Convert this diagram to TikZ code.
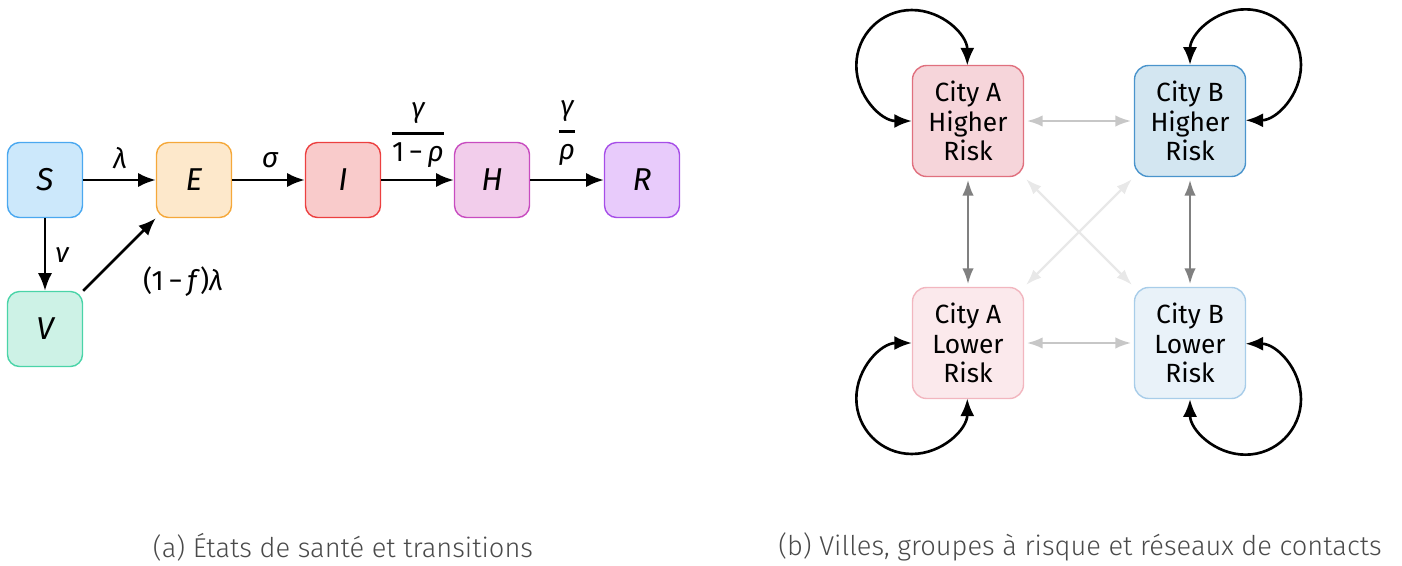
\documentclass[tikz,border=0pt]{standalone}
\usepackage{fontspec}
\setmainfont{Fira Sans}
\IfFontExistsTF{Fira Sans Light}{\newfontfamily\lightfont{Fira Sans Light}}{\newfontfamily\lightfont{Fira Sans}}
\usepackage{tikz}
\usetikzlibrary{arrows.meta}

\definecolor{sFill}{HTML}{CCE8FB}\definecolor{sLine}{HTML}{4AA8F0}
\definecolor{eFill}{HTML}{FDE8CB}\definecolor{eLine}{HTML}{F5A83A}
\definecolor{iFill}{HTML}{F9CBCB}\definecolor{iLine}{HTML}{EC4040}
\definecolor{hFill}{HTML}{F2CDEB}\definecolor{hLine}{HTML}{C84CC0}
\definecolor{rFill}{HTML}{E8CBFB}\definecolor{rLine}{HTML}{A64EE8}
\definecolor{vFill}{HTML}{CDF2E6}\definecolor{vLine}{HTML}{4AD4A8}
\definecolor{ahFill}{HTML}{F6D5DA}\definecolor{ahLine}{HTML}{E0707E}
\definecolor{bhFill}{HTML}{D3E6F1}\definecolor{bhLine}{HTML}{4A94CC}
\definecolor{alFill}{HTML}{FBE9EC}\definecolor{alLine}{HTML}{F2B6BF}
\definecolor{blFill}{HTML}{E9F2F9}\definecolor{blLine}{HTML}{A8CDE9}
\definecolor{capGray}{HTML}{4A4A4A}

\begin{document}
\begin{tikzpicture}[x=0.02cm,y=-0.02cm,>={Latex[length=10pt,width=8pt]},
  state/.style={draw,line width=0.8pt,rounded corners=0.24cm,minimum width=1.5cm,minimum height=1.5cm,inner sep=0pt,font=\fontsize{18}{20}\selectfont\itshape},
  rate/.style={font=\fontsize{16}{18}\selectfont\itshape},
  flow/.style={->,line width=1.5pt},
  group/.style={draw,line width=0.8pt,rounded corners=0.28cm,minimum width=2.22cm,minimum height=2.22cm,inner sep=0pt,align=center,font=\fontsize{15}{17}\selectfont},
  link/.style={{Latex[length=9pt,width=6.5pt]}-{Latex[length=9pt,width=6.5pt]},line width=1.3pt,shorten <=1.5pt,shorten >=1.5pt},
  selfloop/.style={<->,line width=1.5pt},
  legend/.style={font=\lightfont\fontsize{15.5}{18}\selectfont,text=capGray}]
\useasboundingbox (0,0) rectangle (1402,565);

% compartments
\node[state,fill=sFill,draw=sLine] (S) at (45,180) {S};
\node[state,fill=eFill,draw=eLine] (E) at (194,180) {E};
\node[state,fill=iFill,draw=iLine] (I) at (343,180) {I};
\node[state,fill=hFill,draw=hLine] (H) at (492,180) {H};
\node[state,fill=rFill,draw=rLine] (R) at (642,180) {R};
\node[state,fill=vFill,draw=vLine] (V) at (45,329) {V};

\draw[flow] (S) -- (E);
\draw[flow] (E) -- (I);
\draw[flow] (I) -- (H);
\draw[flow] (H) -- (R);
\draw[flow] (S) -- (V);
\draw[flow] (V.north east) -- (E.south west);

\node[rate] (lamSE) at (120,158) {λ};
\node[rate] (sigEI) at (270,160) {σ};
\node[rate] (gamIH) at (418,135) {$\displaystyle{\mbox{\itshape γ}\above1.6pt\mbox{\upshape 1\,−\,\itshape ρ}}$};
\node[rate] (gamHR) at (567,133) {$\displaystyle{\mbox{\itshape γ}\above1.6pt\mbox{\itshape ρ}}$};
\node[rate] (nuSV) at (62,255) {ν};
\node[rate] (lamVE) at (183,282) {\upshape(1\,−\,\itshape f\/\upshape)\itshape λ};

% risk groups
\node[group,fill=ahFill,draw=ahLine] (AH) at (968,121) {City A\\Higher\\Risk};
\node[group,fill=bhFill,draw=bhLine] (BH) at (1190,121) {City B\\Higher\\Risk};
\node[group,fill=alFill,draw=alLine] (AL) at (968,343) {City A\\Lower\\Risk};
\node[group,fill=blFill,draw=blLine] (BL) at (1190,343) {City B\\Lower\\Risk};

\draw[link,color=black!22] (AH) -- (BH);
\draw[link,color=black!22] (AL) -- (BL);
\draw[link,color=black!50] (AH) -- (AL);
\draw[link,color=black!50] (BH) -- (BL);
\draw[link,color=black!9] (AH.south east) -- (BL.north west);
\draw[link,color=black!9] (BH.south west) -- (AL.north east);

\draw[selfloop] (AH.west) arc[start angle=270,end angle=0,radius=1.11cm];
\draw[selfloop] (BH.north) arc[start angle=180,end angle=-90,radius=1.11cm];
\draw[selfloop] (AL.west) arc[start angle=90,end angle=360,radius=1.11cm];
\draw[selfloop] (BL.south) arc[start angle=180,end angle=450,radius=1.11cm];

\node[legend] (capA) at (343,547) {(a) États de santé et transitions};
\node[legend] (capB) at (1080,547) {(b) Villes, groupes à risque et réseaux de contacts};
\end{tikzpicture}
\end{document}
